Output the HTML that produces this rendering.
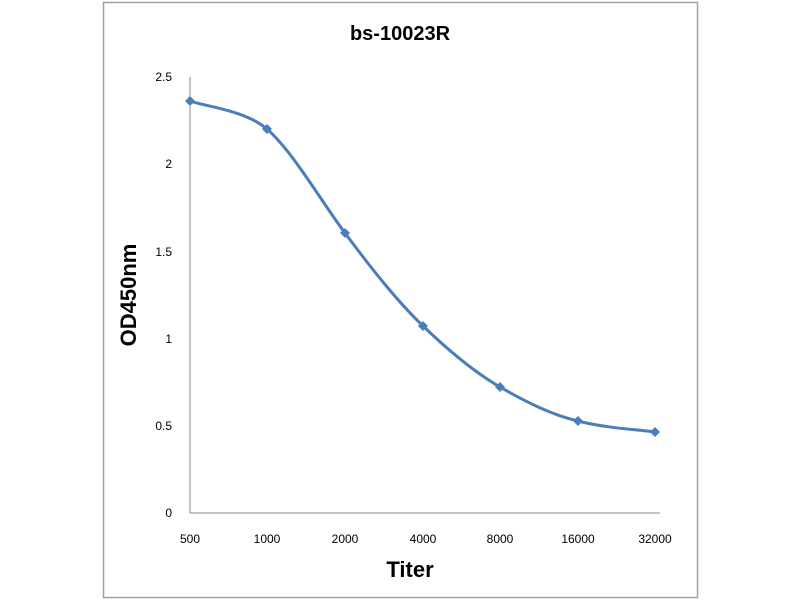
<!DOCTYPE html><html><head><style>body{margin:0;background:#fff}</style></head><body>
<svg width="800" height="600" xmlns="http://www.w3.org/2000/svg" font-family="Liberation Sans, sans-serif">
<rect x="103.5" y="2.5" width="594" height="595" fill="#fff" stroke="#a0a0a0" stroke-width="1.5"/>
<text x="400" y="40" text-anchor="middle" font-size="20" font-weight="bold">bs-10023R</text>
<line x1="190" y1="77" x2="190" y2="513" stroke="#888" stroke-width="1"/>
<line x1="190" y1="513" x2="660" y2="513" stroke="#888" stroke-width="1"/>
<g font-size="12" text-anchor="end" fill="#000">
<text x="172" y="517">0</text><text x="172" y="430">0.5</text><text x="172" y="343">1</text><text x="172" y="256">1.5</text><text x="172" y="168">2</text><text x="172" y="81">2.5</text>
</g>
<g font-size="12" text-anchor="middle">
<text x="190" y="543">500</text><text x="267" y="543">1000</text><text x="345" y="543">2000</text><text x="423" y="543">4000</text><text x="500" y="543">8000</text><text x="578" y="543">16000</text><text x="655" y="543">32000</text>
</g>
<text x="410" y="577" text-anchor="middle" font-size="22" font-weight="bold">Titer</text>
<text transform="translate(136,295) rotate(-90)" text-anchor="middle" font-size="22" font-weight="bold">OD450nm</text>
<path d="M190,101 C203,106 245,110 267,129 C293,152 319,198 345,233 C371,268 397,301 423,326 C449,351 474,372 500,387 C526,402 552,415 578,421 C604,428 642,430 655,432" fill="none" stroke="#4a7ebb" stroke-width="3"/>
<g fill="#4a7ebb">
<path d="M190,96 l5,5 l-5,5 l-5,-5z"/><path d="M267,124 l5,5 l-5,5 l-5,-5z"/><path d="M345,228 l5,5 l-5,5 l-5,-5z"/><path d="M423,321 l5,5 l-5,5 l-5,-5z"/><path d="M500,382 l5,5 l-5,5 l-5,-5z"/><path d="M578,416 l5,5 l-5,5 l-5,-5z"/><path d="M655,427 l5,5 l-5,5 l-5,-5z"/>
</g>
</svg></body></html>
